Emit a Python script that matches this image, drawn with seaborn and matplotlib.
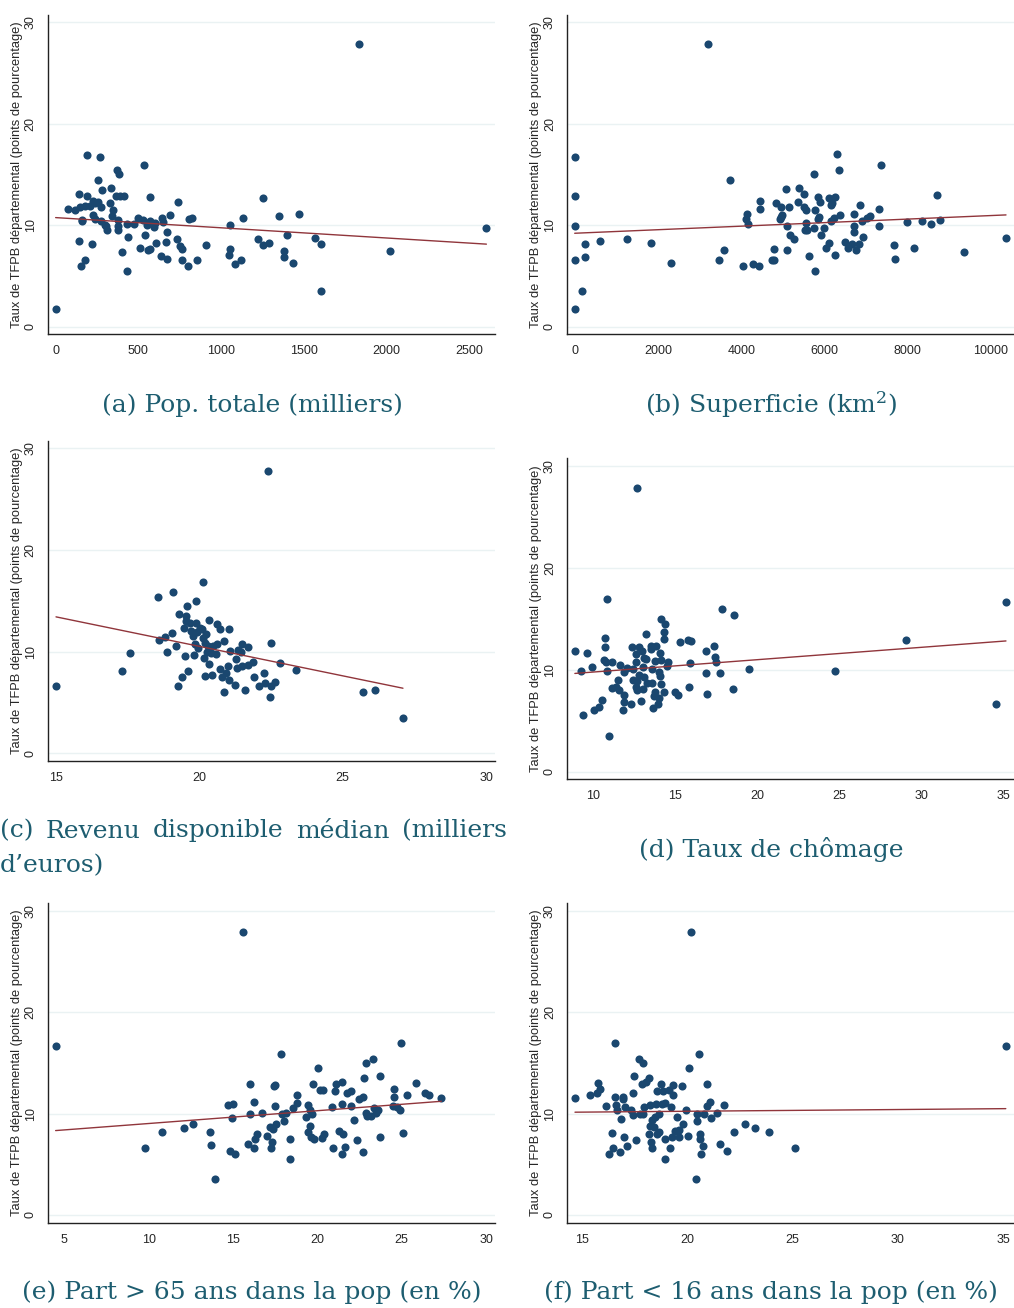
import numpy as np
import pandas as pd
import matplotlib
matplotlib.use("Agg")
import matplotlib.pyplot as plt
import seaborn as sns

# Taux de TFPB departemental vs. six caracteristiques des departements
YLABEL = "Taux de TFPB départemental (points de pourcentage)"

# (a) population totale (milliers)
pop_x = [1837, 0, 2605, 2020, 1603, 1607, 1567, 1472, 1349, 1397,
         1381, 1379, 1433, 1256, 1288, 1254, 1222, 1133, 1123, 1085,
         1054, 1052, 1046, 907, 853, 802, 762, 764, 754, 734,
         823, 808, 742, 694, 673, 673, 665, 637, 649, 643,
         605, 597, 601, 571, 571, 558, 554, 534, 573, 530,
         538, 498, 508, 474, 433, 435, 429, 403, 415, 385,
         369, 389, 367, 377, 375, 375, 333, 331, 349, 341,
         304, 312, 300, 282, 274, 268, 256, 254, 238, 224,
         228, 240, 274, 188, 188, 208, 175, 147, 139, 119,
         75, 157, 159, 141, 222, 175, 153]
pop_y = [27.9, 1.7, 9.7, 7.5, 3.5, 8.1, 8.7, 11.1, 10.9, 9.0,
         7.5, 6.9, 6.3, 12.7, 8.2, 8.0, 8.6, 10.7, 6.6, 6.2,
         7.7, 10.0, 7.1, 8.0, 6.6, 6.0, 6.6, 7.7, 7.9, 8.6,
         10.7, 10.6, 12.3, 11.0, 9.3, 6.7, 8.3, 7.0, 10.3, 10.7,
         8.2, 9.8, 10.2, 10.4, 7.7, 7.6, 10.0, 15.9, 12.8, 10.5,
         9.0, 10.7, 7.8, 10.1, 10.1, 8.8, 5.5, 7.4, 12.9, 15.0,
         15.4, 12.9, 12.9, 10.5, 9.9, 9.5, 13.7, 12.2, 11.5, 10.9,
         9.9, 9.5, 10.0, 13.5, 11.8, 16.7, 14.5, 12.3, 12.2, 12.4,
         11.0, 10.6, 10.4, 16.9, 12.9, 11.9, 11.9, 11.8, 13.1, 11.5,
         11.6, 10.5, 10.4, 8.4, 8.1, 6.6, 6.0]

# (b) superficie (km2)
sup_x = [3211, 0, 0, 0, 0, 0, 176, 240, 248, 608,
         1249, 1825, 2306, 3475, 3579, 3731, 4043, 4123, 4147, 4155,
         4291, 4435, 4444, 4444, 4732, 4788, 4780, 4828, 4924, 4964,
         4988, 4956, 5068, 5092, 5100, 5140, 5164, 5276, 5364, 5396,
         5516, 5516, 5556, 5556, 5532, 5580, 5628, 5741, 5741, 5781,
         5781, 5853, 5885, 5837, 5869, 5917, 5989, 6045, 6101, 6117,
         6149, 6181, 6245, 6165, 6229, 6253, 6301, 6349, 6373, 6493,
         6557, 6653, 6701, 6709, 6701, 6765, 6845, 6837, 6933, 6909,
         7029, 7101, 7301, 7301, 7350, 7670, 7702, 7990, 8151, 8343,
         8559, 8703, 8783, 9343, 10360]
sup_y = [27.9, 16.7, 12.9, 9.9, 6.6, 1.7, 3.5, 8.1, 6.9, 8.4,
         8.6, 8.2, 6.3, 6.6, 7.6, 14.5, 6.0, 10.6, 11.1, 10.1,
         6.2, 6.0, 12.4, 11.6, 6.6, 6.6, 7.7, 12.2, 10.6, 11.8,
         11.0, 10.8, 13.6, 7.6, 9.9, 11.8, 9.0, 8.6, 12.3, 13.7,
         13.1, 11.8, 11.5, 10.2, 9.5, 9.5, 7.0, 15.0, 9.7, 11.5,
         5.5, 12.8, 12.3, 10.6, 10.8, 9.0, 9.7, 7.8, 8.2, 12.7,
         12.0, 12.2, 12.8, 10.4, 10.7, 7.1, 17.0, 15.4, 11.0, 8.3,
         7.8, 8.1, 11.1, 9.9, 9.3, 7.6, 12.0, 8.1, 8.8, 10.4,
         10.7, 10.9, 11.6, 9.9, 15.9, 8.0, 6.7, 10.3, 7.8, 10.4,
         10.1, 13.0, 10.5, 7.4, 8.7]

# (c) revenu disponible median (milliers d'euros)
rev_x = [22.41, 15.00, 17.30, 17.57, 18.56, 18.60, 18.80, 18.87, 19.03, 19.09,
         19.19, 19.26, 19.29, 19.40, 19.48, 19.49, 19.52, 19.56, 19.53, 19.62,
         19.67, 19.72, 19.77, 19.81, 19.85, 19.87, 19.88, 19.91, 19.95, 20.02,
         20.08, 20.12, 20.14, 20.16, 20.20, 20.22, 20.21, 20.26, 20.31, 20.35,
         20.35, 20.40, 20.43, 20.49, 20.58, 20.62, 20.60, 20.71, 20.71, 20.79,
         20.86, 20.87, 20.93, 20.99, 21.03, 21.05, 21.07, 21.24, 21.28, 21.30,
         21.33, 21.44, 21.47, 21.50, 21.59, 21.69, 21.70, 21.88, 21.91, 22.09,
         22.26, 22.29, 22.47, 22.49, 22.51, 22.64, 22.81, 23.36, 25.71, 26.14,
         27.10]
rev_y = [27.8, 6.6, 8.1, 9.9, 15.4, 11.1, 11.4, 10.0, 11.8, 15.9,
         10.6, 6.6, 13.7, 7.5, 12.3, 9.6, 13.5, 14.5, 13.0, 8.1,
         12.8, 12.0, 11.5, 9.7, 10.8, 15.0, 12.8, 11.9, 10.4, 12.3,
         12.2, 16.9, 11.3, 9.4, 10.9, 11.7, 7.6, 10.0, 10.6, 13.1,
         8.8, 9.9, 7.7, 10.6, 9.8, 12.7, 10.8, 12.2, 8.3, 7.5,
         6.0, 11.0, 7.9, 8.6, 7.2, 12.2, 10.1, 6.7, 9.3, 8.4,
         10.2, 10.0, 8.6, 10.8, 6.2, 10.5, 8.7, 9.0, 7.5, 6.6,
         7.9, 6.9, 5.5, 6.6, 10.9, 7.0, 8.9, 8.2, 6.0, 6.2,
         3.5]

# (d) taux de chomage
cho_x = [12.69, 35.18, 34.57, 29.06, 24.77, 19.52, 18.56, 17.87, 18.52, 17.73,
         17.38, 17.44, 17.47, 16.86, 16.86, 16.92, 15.94, 15.78, 15.88, 15.86,
         15.29, 15.17, 14.96, 14.54, 14.52, 14.37, 14.31, 14.29, 14.29, 14.11,
         14.07, 14.15, 14.11, 14.07, 14.03, 14.03, 13.93, 13.80, 13.76, 13.74,
         13.68, 13.66, 13.54, 13.56, 13.58, 13.50, 13.30, 13.25, 13.25, 13.09,
         13.05, 13.09, 13.03, 12.97, 12.89, 12.81, 12.77, 12.69, 12.64, 12.62,
         12.60, 12.58, 12.44, 12.40, 12.34, 12.32, 12.03, 11.87, 11.85, 11.89,
         11.79, 11.65, 11.59, 11.53, 11.36, 11.16, 11.12, 10.96, 10.83, 10.83,
         10.77, 10.73, 10.73, 10.67, 10.53, 10.33, 10.06, 9.90, 9.61, 9.37,
         9.25, 8.88]
cho_y = [27.8, 16.6, 6.6, 12.9, 9.9, 10.1, 15.4, 15.9, 8.1, 9.7,
         12.3, 11.2, 10.7, 11.8, 9.7, 7.6, 12.8, 12.9, 10.6, 8.3,
         12.7, 7.5, 7.8, 10.7, 10.4, 14.5, 13.7, 13.0, 7.8, 15.0,
         11.6, 10.9, 8.6, 9.4, 9.8, 7.2, 6.6, 12.3, 10.8, 7.8,
         7.4, 6.2, 12.0, 10.1, 8.7, 12.3, 8.7, 13.5, 11.0, 11.1,
         10.3, 9.3, 8.1, 11.8, 6.9, 12.2, 9.5, 8.9, 8.0, 11.5,
         8.3, 10.7, 9.0, 10.1, 12.2, 6.6, 10.2, 7.5, 9.8, 6.8,
         6.0, 10.5, 8.0, 9.0, 8.3, 8.2, 10.7, 3.5, 16.9, 9.9,
         10.7, 13.1, 12.2, 10.9, 7.0, 6.3, 6.0, 10.3, 11.6, 5.5,
         9.9, 11.8]

# (e) part des plus de 65 ans (%)
p65_x = [15.61, 4.49, 9.80, 10.79, 12.08, 12.63, 13.62, 13.70, 13.91, 14.72,
         14.98, 14.92, 14.80, 15.10, 15.89, 15.99, 16.03, 16.26, 16.24, 16.32,
         16.42, 16.70, 17.02, 17.21, 17.27, 17.33, 17.39, 17.45, 17.47, 17.51,
         17.53, 17.85, 17.89, 18.00, 18.12, 18.38, 18.40, 18.56, 18.77, 18.81,
         19.31, 19.43, 19.47, 19.57, 19.55, 19.68, 19.62, 19.72, 19.78, 20.02,
         20.16, 20.34, 20.30, 20.42, 20.85, 20.93, 21.05, 21.11, 21.30, 21.44,
         21.48, 21.52, 21.46, 21.66, 21.76, 22.02, 22.00, 22.15, 22.33, 22.47,
         22.71, 22.69, 22.77, 22.89, 22.91, 22.93, 23.18, 23.30, 23.38, 23.50,
         23.60, 23.74, 23.72, 24.51, 24.57, 24.57, 24.70, 24.90, 24.94, 25.06,
         25.34, 25.85, 26.38, 26.64, 27.35]
p65_y = [27.9, 16.7, 6.6, 8.2, 8.6, 9.0, 8.2, 6.9, 3.5, 10.8,
         10.9, 9.6, 6.3, 6.0, 7.0, 12.9, 10.0, 11.1, 6.6, 7.5,
         8.0, 10.1, 7.8, 8.7, 6.6, 7.2, 8.5, 12.7, 12.8, 10.7,
         9.0, 15.9, 10.0, 9.3, 10.1, 5.5, 7.5, 10.5, 11.0, 11.8,
         9.7, 10.8, 8.2, 8.8, 10.4, 10.0, 7.7, 12.9, 7.5, 14.5,
         12.3, 12.3, 7.6, 8.0, 10.6, 6.6, 12.2, 12.9, 8.3, 13.1,
         10.9, 8.0, 6.0, 6.7, 12.0, 12.2, 10.7, 9.4, 7.4, 11.4,
         11.6, 6.2, 13.5, 15.0, 10.1, 9.8, 9.8, 15.4, 10.5, 10.1,
         10.4, 13.7, 7.7, 10.7, 12.4, 11.6, 10.6, 10.4, 17.0, 8.1,
         11.8, 13.0, 12.0, 11.8, 11.5]

# (f) part des moins de 16 ans (%)
p16_x = [20.17, 35.13, 25.11, 23.87, 23.23, 22.73, 22.23, 21.86, 21.53, 21.74,
         21.40, 21.13, 21.07, 20.94, 20.93, 20.78, 20.72, 20.64, 20.61, 20.61,
         20.55, 20.45, 20.45, 20.40, 20.07, 20.02, 19.94, 19.79, 19.72, 19.58,
         19.58, 19.48, 19.39, 19.29, 19.29, 19.26, 19.20, 19.18, 19.10, 18.95,
         18.91, 18.91, 18.84, 18.80, 18.76, 18.66, 18.64, 18.57, 18.57, 18.49,
         18.45, 18.42, 18.33, 18.31, 18.25, 18.23, 18.20, 18.17, 18.19, 18.03,
         17.93, 17.90, 17.87, 17.85, 17.68, 17.74, 17.55, 17.46, 17.42, 17.39,
         17.30, 17.14, 17.03, 16.98, 16.95, 16.92, 16.81, 16.84, 16.66, 16.62,
         16.54, 16.54, 16.46, 16.41, 16.28, 16.14, 15.82, 15.76, 15.68, 15.38,
         14.65]
p16_y = [27.9, 16.7, 6.6, 8.2, 8.6, 9.0, 8.2, 6.3, 7.0, 10.8,
         10.1, 9.6, 11.1, 12.9, 10.7, 10.0, 6.8, 6.0, 8.0, 7.5,
         15.9, 10.0, 9.3, 3.5, 14.5, 7.8, 10.4, 9.0, 12.7, 8.4,
         7.7, 9.7, 8.3, 12.8, 11.8, 7.7, 10.6, 6.6, 12.3, 11.0,
         5.5, 7.5, 12.2, 10.9, 12.9, 10.0, 8.2, 12.2, 8.0, 10.9,
         9.7, 8.7, 9.4, 6.6, 7.2, 10.8, 8.8, 8.0, 13.5, 13.1,
         10.6, 10.0, 15.0, 12.9, 15.4, 10.0, 7.4, 13.7, 12.0, 9.9,
         10.4, 6.8, 10.6, 7.7, 11.4, 11.6, 6.2, 9.5, 10.4, 10.8,
         17.0, 11.6, 6.6, 8.1, 6.0, 10.7, 12.4, 13.0, 12.0, 11.8,
         11.5]

CAPTIONS = ["(a) Pop. totale (milliers)",
            "(b) Superficie (km$^{2}$)",
            "(c) Revenu disponible médian (milliers d’euros)",
            "(d) Taux de chômage",
            "(e) Part > 65 ans dans la pop (en %)",
            "(f) Part < 16 ans dans la pop (en %)"]

NAVY = "#1a476f"
MAROON = "#90353b"
CAP_COLOR = "#1d5d70"
W, H = 1014, 1308

sns.set_style("white")
plt.rcParams["font.family"] = ["Liberation Sans", "DejaVu Sans"]
plt.rcParams["mathtext.fontset"] = "dejavuserif"

fig = plt.figure(figsize=(W / 100, H / 100), dpi=100)


def add_ax(left, top, right, bottom):
    return fig.add_axes([left / W, 1 - bottom / H, (right - left) / W, (bottom - top) / H])


panels = [
    (pop_x, pop_y, (47.7, 15, 495, 334.3), (-48, 2657), [0, 500, 1000, 1500, 2000, 2500]),
    (sup_x, sup_y, (567, 15, 1014, 334.3), (-185, 10552), [0, 2000, 4000, 6000, 8000, 10000]),
    (rev_x, rev_y, (47.7, 441, 495, 761), (14.71, 30.31), [15, 20, 25, 30]),
    (cho_x, cho_y, (567, 458.3, 1014, 779.3), (8.40, 35.67), [10, 15, 20, 25, 30, 35]),
    (p65_x, p65_y, (47.7, 903.3, 495, 1222.7), (4.02, 30.53), [5, 10, 15, 20, 25, 30]),
    (p16_x, p16_y, (567, 903.3, 1014, 1222.7), (14.27, 35.52), [15, 20, 25, 30, 35]),
]

for xs, ys, box, xlim, xticks in panels:
    ax = add_ax(*box)
    df = pd.DataFrame({"x": xs, "y": ys})
    for v in [0, 10, 20, 30]:
        ax.axhline(v, color="#eaf2f3", lw=1.0, zorder=0)
    sns.regplot(data=df, x="x", y="y", ax=ax, ci=None, color=NAVY,
                scatter_kws={"s": 34, "linewidths": 0, "alpha": 1, "zorder": 2},
                line_kws={"color": MAROON, "lw": 1.0, "zorder": 3})
    ax.set_xlim(*xlim)
    ax.set_ylim(-0.76, 30.73)
    ax.set_xticks(xticks)
    ax.set_yticks([0, 10, 20, 30])
    ax.set_xlabel("")
    ax.set_ylabel(YLABEL, fontsize=9.3, labelpad=1)
    ax.tick_params(axis="both", direction="out", length=5, width=0.8,
                   color="#333333", labelsize=9, pad=3)
    for lab in ax.get_yticklabels():
        lab.set_rotation(90)
        lab.set_va("center")
    sns.despine(ax=ax)
    for s in ["left", "bottom"]:
        ax.spines[s].set_color("#222222")
        ax.spines[s].set_linewidth(1.0)

cap_font = dict(family="DejaVu Serif", fontsize=18, color=CAP_COLOR, va="center")
fig.text(252 / W, 1 - 405 / H, CAPTIONS[0], ha="center", **cap_font)
fig.text(771 / W, 1 - 405 / H, CAPTIONS[1], ha="center", **cap_font)
fig.text(771 / W, 1 - 849 / H, CAPTIONS[3], ha="center", **cap_font)
fig.text(252 / W, 1 - 1292 / H, CAPTIONS[4], ha="center", **cap_font)
fig.text(771 / W, 1 - 1292 / H, CAPTIONS[5], ha="center", **cap_font)

# caption (c) is justified over two lines
words = CAPTIONS[2].split(" ")
line1, line2 = words[:-1], words[-1]
fig.canvas.draw()
renderer = fig.canvas.get_renderer()
texts = [fig.text(0, 1 - 831 / H, w, ha="left", **cap_font) for w in line1]
widths = [t.get_window_extent(renderer).width for t in texts]
gap = (507 - sum(widths)) / (len(widths) - 1)
xpos = 0.0
for t, w in zip(texts, widths):
    t.set_x(xpos / W)
    xpos += w + gap
fig.text(0, 1 - 866 / H, line2, ha="left", **cap_font)

fig.savefig("out.png", dpi=100)
